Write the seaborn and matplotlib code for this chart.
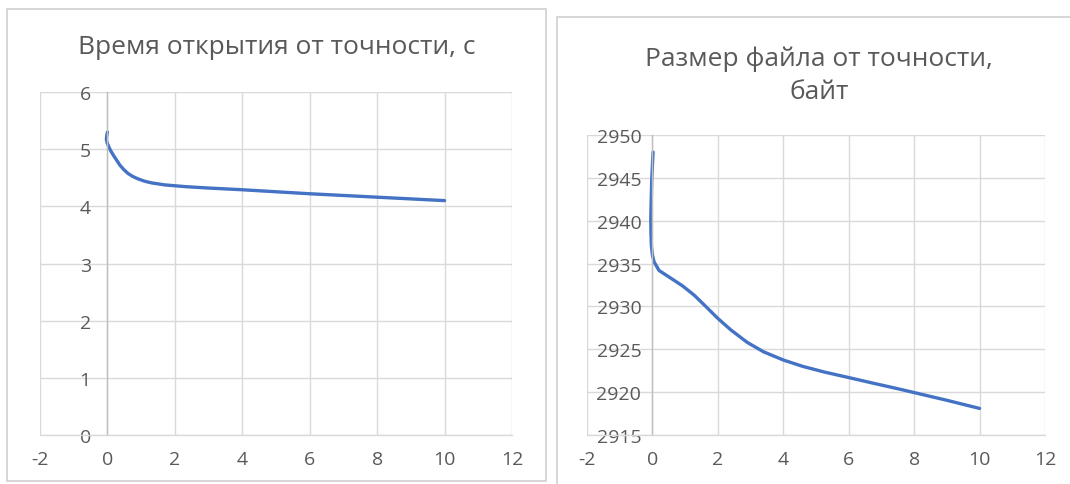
import numpy as np
import pandas as pd
import matplotlib
matplotlib.use("Agg")
import matplotlib.pyplot as plt
import seaborn as sns
from matplotlib.patches import Rectangle

# ---- data ----
x_time = [0.00, -0.02, -0.03, -0.01, 0.02, 0.08, 0.17, 0.27, 0.37, 0.49, 0.61, 0.76, 0.91, 1.10, 1.31, 1.70, 2.3, 3.0, 4.0, 5.0, 6.0, 7.0, 8.0, 9.0, 10.0]
y_time = [5.30, 5.24, 5.17, 5.11, 5.07, 4.99, 4.90, 4.81, 4.72, 4.64, 4.575, 4.52, 4.48, 4.44, 4.41, 4.375, 4.345, 4.32, 4.29, 4.255, 4.22, 4.19, 4.16, 4.13, 4.10]

x_size = [0.02, 0.0, -0.02, -0.04, -0.05, -0.045, -0.03, 0.0, 0.05, 0.2, 0.56, 0.92, 1.28, 1.63, 2.0, 2.4, 2.9, 3.4, 4.0, 4.6, 5.25, 6.0, 6.8, 7.5, 8.0, 9.0, 10.0]
y_size = [2948.0, 2946.5, 2944.9, 2942.0, 2940.3, 2938.5, 2937.0, 2936.0, 2935.2, 2934.2, 2933.3, 2932.4, 2931.3, 2930.0, 2928.6, 2927.25, 2925.8, 2924.7, 2923.75, 2923.0, 2922.35, 2921.7, 2921.0, 2920.4, 2919.95, 2919.05, 2918.1]

x_ticks = [-2, 0, 2, 4, 6, 8, 10, 12]
time_ticks = [0, 1, 2, 3, 4, 5, 6]
size_ticks = [2915, 2920, 2925, 2930, 2935, 2940, 2945, 2950]

title_time = "Время открытия от точности, с"
title_size = "Размер файла от точности,\nбайт"

# ---- style ----
sns.set_theme(style="whitegrid")
plt.rcParams['font.family'] = ['Open Sans', 'DejaVu Sans']

W, H = 1070, 485
fig = plt.figure(figsize=(W / 100, H / 100), dpi=100)
fig.patch.set_facecolor("white")

LINE = "#4472C4"
GRID = "#D9D9D9"
TXT = "#595959"


def fx(px):
    return px / W


def fy(py):
    return 1 - py / H


# panel borders
fig.add_artist(Rectangle((fx(7), fy(482)), (546 - 7) / W, (482 - 10) / H,
                         transform=fig.transFigure, fill=False, edgecolor="#D0D0D0", lw=1.2))
fig.add_artist(Rectangle((fx(557), fy(492)), (1080 - 557) / W, (492 - 18) / H,
                         transform=fig.transFigure, fill=False, edgecolor="#D0D0D0", lw=1.2))


def make_ax(left_px, right_px, top_px, bottom_px):
    return fig.add_axes([fx(left_px), fy(bottom_px), (right_px - left_px) / W, (bottom_px - top_px) / H])


ax1 = make_ax(40, 512, 93, 436)
ax2 = make_ax(587, 1045, 136, 436)

df1 = pd.DataFrame({"x": x_time, "y": y_time})
df2 = pd.DataFrame({"x": x_size, "y": y_size})

sns.lineplot(data=df1, x="x", y="y", ax=ax1, sort=False, estimator=None, color=LINE, lw=2.4)
sns.lineplot(data=df2, x="x", y="y", ax=ax2, sort=False, estimator=None, color=LINE, lw=2.4)
for ax in (ax1, ax2):
    for ln in ax.get_lines():
        ln.set_solid_joinstyle("round")
        ln.set_solid_capstyle("round")

for ax, yt, ylim, ypad in [(ax1, time_ticks, (0, 6), 12), (ax2, size_ticks, (2915, 2950), 8)]:
    ax.set_xlim(-2, 12)
    ax.set_ylim(*ylim)
    ax.set_xticks(x_ticks)
    ax.set_yticks(yt)
    ax.set_xlabel("")
    ax.set_ylabel("")
    ax.set_facecolor("white")
    ax.grid(True, color=GRID, lw=1.0)
    for s in ["top", "right"]:
        ax.spines[s].set_visible(False)
    ax.spines["left"].set_position(("data", 0))
    ax.spines["left"].set_color("#BFBFBF")
    ax.spines["left"].set_linewidth(1.0)
    ax.spines["bottom"].set_color(GRID)
    ax.spines["bottom"].set_linewidth(1.0)
    ax.tick_params(axis="both", length=0, colors=TXT, labelsize=14)
    ax.tick_params(axis="x", pad=11)
    ax.tick_params(axis="y", pad=ypad)
    ax.set_xticklabels([str(t) if t >= 0 else "-" + str(-t) for t in x_ticks])
    ax.set_yticklabels([str(t) for t in yt])

fig.text(fx(277), fy(48), title_time, ha="center", va="center", fontsize=19, color=TXT)
fig.text(fx(819), fy(76), title_size, ha="center", va="center", fontsize=19, color=TXT,
         linespacing=1.42)

fig.savefig("out.png", dpi=100, facecolor="white")
